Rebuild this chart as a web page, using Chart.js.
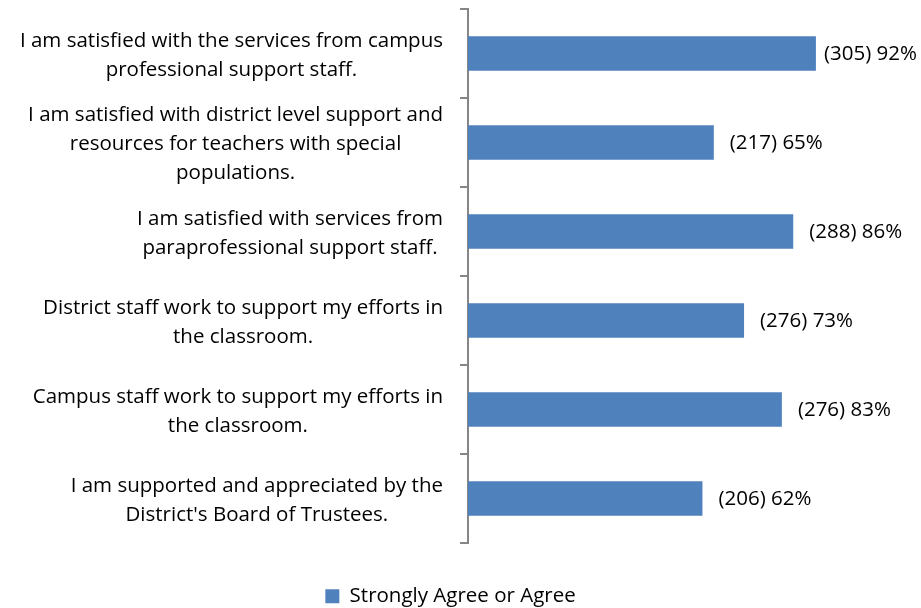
<!DOCTYPE html>
<html>
<head>
<meta charset="utf-8">
<script src="https://cdn.jsdelivr.net/npm/chart.js@4.4.1/dist/chart.umd.min.js"></script>
<style>
  html, body { margin: 0; padding: 0; background: #fff; }
  #wrap { width: 921px; height: 608px; }
</style>
</head>
<body>
<div id="wrap"><canvas id="survey"></canvas></div>
<script>
// survey statements, one array of wrapped lines each
var statements = [
  ['I am satisfied with the services from campus', 'professional support staff.'],
  ['I am satisfied with district level support and', 'resources for teachers with special', 'populations.'],
  ['I am satisfied with services from', 'paraprofessional support staff.'],
  ['District staff work to support my efforts in', 'the classroom.'],
  ['Campus staff work to support my efforts in', 'the classroom.'],
  ['I am supported and appreciated by the', "District's Board of Trustees."]
];
var agreePct = [92, 65, 86, 73, 83, 62];
var agreeCount = [305, 217, 288, 276, 276, 206];
var seriesName = 'Strongly Agree or Agree';

var FONT = '"Open Sans", sans-serif';
var FONT_SIZE = 20.5;
var LINE_H = 29;

// statement text: each block centred on itself, blocks right-aligned to the axis
var statementLabels = {
  id: 'statementLabels',
  afterDraw: function(chart) {
    var ctx = chart.ctx;
    var y = chart.scales.y;
    var right = y.right - 25;
    ctx.save();
    ctx.font = FONT_SIZE + 'px ' + FONT;
    ctx.fillStyle = '#000';
    ctx.textAlign = 'center';
    ctx.textBaseline = 'middle';
    statements.forEach(function(lines, i) {
      var w = 0;
      lines.forEach(function(l) { w = Math.max(w, ctx.measureText(l).width); });
      var cx = right - w / 2;
      var cy = y.getPixelForValue(i) + 2;
      var top = cy - (lines.length - 1) * LINE_H / 2;
      lines.forEach(function(l, k) { ctx.fillText(l, cx, top + k * LINE_H); });
    });
    ctx.restore();
  }
};

// "(count) pct%" after each bar, pulled back in if it would leave the canvas
var valueLabels = {
  id: 'valueLabels',
  afterDatasetsDraw: function(chart) {
    var ctx = chart.ctx;
    var meta = chart.getDatasetMeta(0);
    ctx.save();
    ctx.font = FONT_SIZE + 'px ' + FONT;
    ctx.fillStyle = '#000';
    ctx.textAlign = 'left';
    ctx.textBaseline = 'middle';
    meta.data.forEach(function(bar, i) {
      var txt = '(' + agreeCount[i] + ') ' + agreePct[i] + '%';
      var x = Math.min(bar.x + 16, chart.width - 4 - ctx.measureText(txt).width);
      ctx.fillText(txt, x, bar.y + 1);
    });
    ctx.restore();
  }
};

// give the legend a fixed band under the plot
var legendBand = {
  id: 'legendBand',
  beforeInit: function(chart) {
    var fit = chart.legend.fit;
    chart.legend.fit = function() {
      fit.call(this);
      this.height = 65;
    };
  }
};

var chartSurvey = new Chart(document.getElementById('survey'), {
  type: 'bar',
  data: {
    labels: statements.map(function(s) { return s.join(' '); }),
    datasets: [{
      label: seriesName,
      data: agreePct,
      backgroundColor: '#4F81BD',
      borderWidth: 0,
      categoryPercentage: 1,
      barPercentage: 0.39
    }]
  },
  options: {
    indexAxis: 'y',
    responsive: true,
    maintainAspectRatio: false,
    animation: false,
    layout: {
      padding: { left: 0, right: 20, top: 9, bottom: 0 }
    },
    scales: {
      x: {
        display: false,
        min: 0,
        max: 114.5
      },
      y: {
        afterFit: function(scale) { scale.width = 468; },
        ticks: { display: false },
        grid: {
          offset: true,
          drawOnChartArea: false,
          drawTicks: true,
          tickLength: 8,
          color: '#868686',
          lineWidth: 2
        },
        border: { display: true, color: '#868686', width: 2 }
      }
    },
    plugins: {
      legend: {
        display: true,
        position: 'bottom',
        labels: {
          boxWidth: 14,
          boxHeight: 14,
          padding: 43,
          color: '#000',
          font: { family: FONT, size: FONT_SIZE }
        }
      },
      tooltip: { enabled: false }
    }
  },
  plugins: [statementLabels, valueLabels, legendBand]
});
</script>
</body>
</html>
